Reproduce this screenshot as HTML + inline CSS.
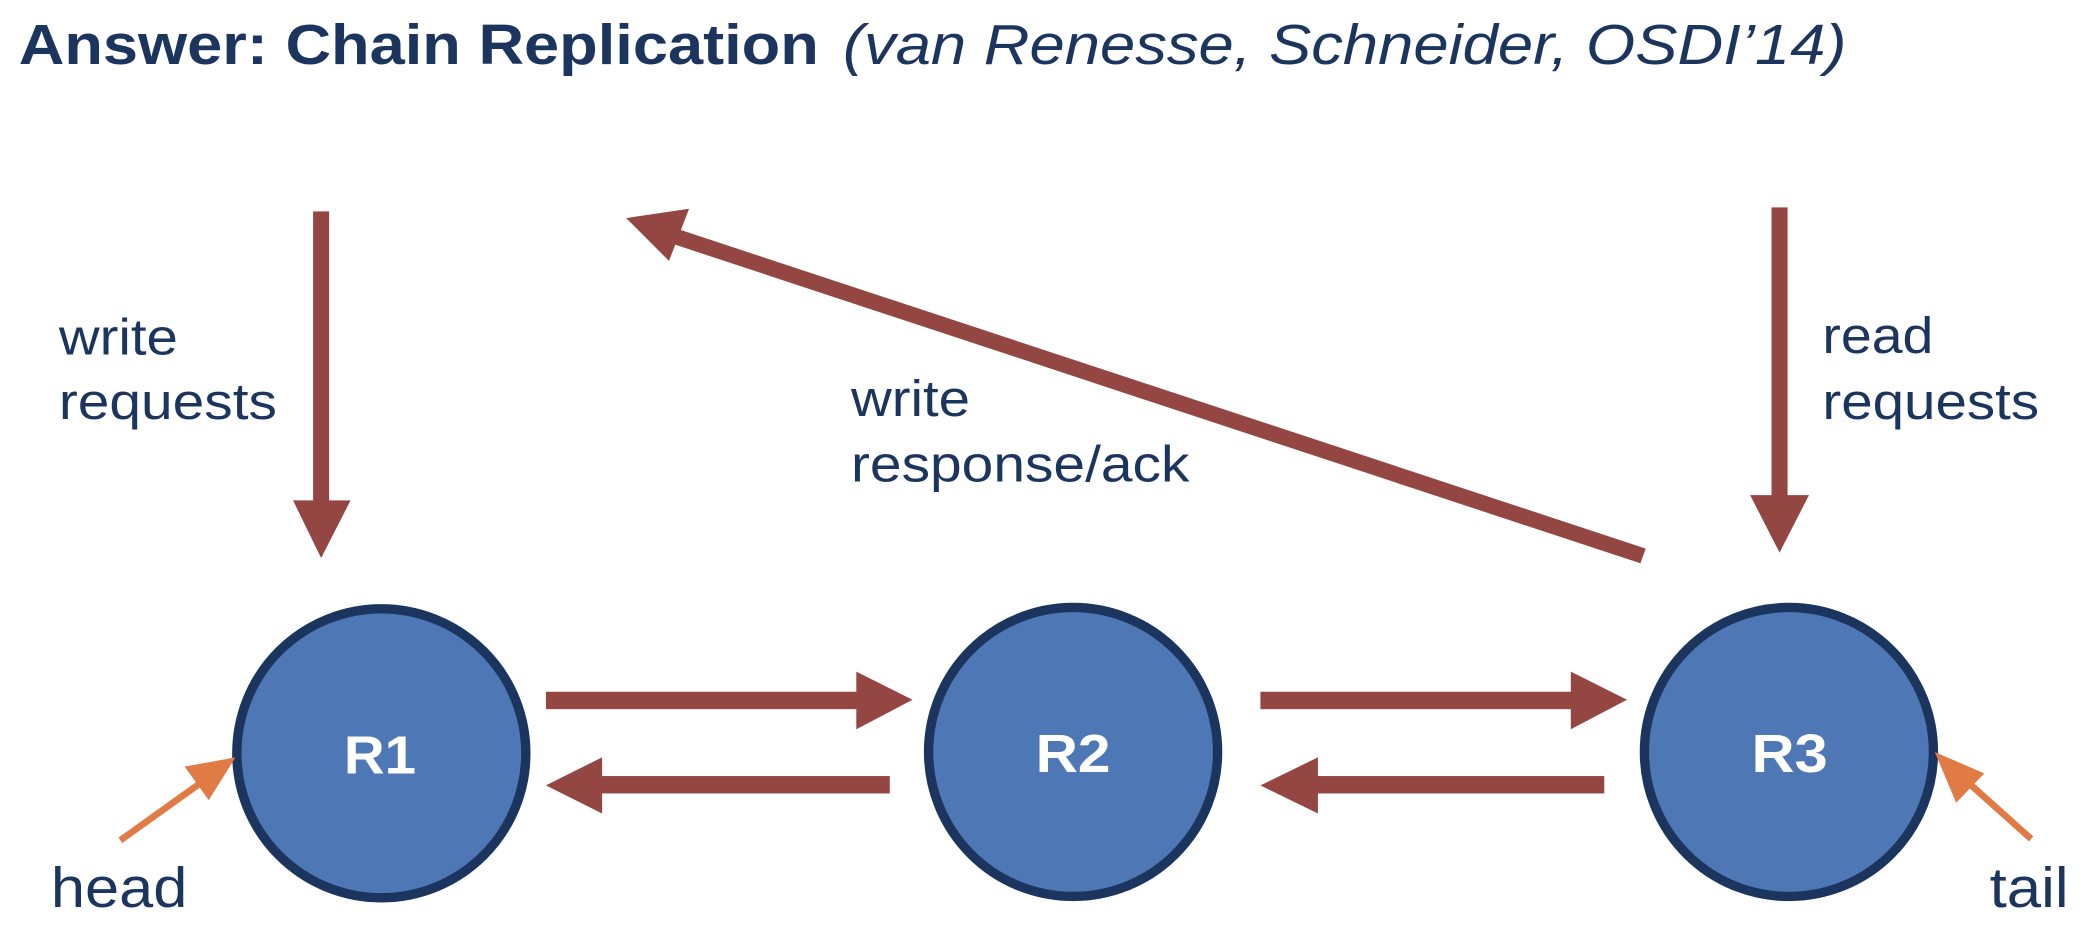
<!DOCTYPE html>
<html><head><style>html,body{margin:0;padding:0;background:#fff;}svg{display:block}</style></head>
<body>
<svg width="2098" height="952" viewBox="0 0 1568 711.5" preserveAspectRatio="none" xmlns="http://www.w3.org/2000/svg">
<g font-family="Liberation Sans, sans-serif" fill="#1c355e">
<text x="14" y="48" font-size="42" font-weight="bold" textLength="598" lengthAdjust="spacingAndGlyphs">Answer: Chain Replication</text>
<text x="630" y="48" font-size="42" font-style="italic" textLength="750" lengthAdjust="spacingAndGlyphs">(van Renesse, Schneider, OSDI’14)</text>
<text x="44" y="265" font-size="38" textLength="89" lengthAdjust="spacingAndGlyphs">write</text>
<text x="44" y="313" font-size="38" textLength="163" lengthAdjust="spacingAndGlyphs">requests</text>
<text x="636" y="311" font-size="38" textLength="89" lengthAdjust="spacingAndGlyphs">write</text>
<text x="636" y="360" font-size="38" textLength="253" lengthAdjust="spacingAndGlyphs">response/ack</text>
<text x="1362" y="264" font-size="38" textLength="83" lengthAdjust="spacingAndGlyphs">read</text>
<text x="1362" y="313" font-size="38" textLength="162" lengthAdjust="spacingAndGlyphs">requests</text>
<text x="38" y="678" font-size="42" textLength="102" lengthAdjust="spacingAndGlyphs">head</text>
<text x="1487" y="678" font-size="42" textLength="59" lengthAdjust="spacingAndGlyphs">tail</text>
</g>
<g fill="#944642" stroke="none">
<rect x="234" y="158" width="12" height="218"/>
<polygon points="219,374 262,374 240,417"/>
<rect x="1324" y="155" width="12" height="216"/>
<polygon points="1308,370 1352,370 1330,413"/>
<polygon points="1230,410 1226,421 502,182 506,171"/>
<polygon points="468,163 515,156 500,195"/>
<rect x="408" y="517" width="234" height="13"/>
<polygon points="640,502 682,523 640,545"/>
<rect x="942" y="517" width="234" height="13"/>
<polygon points="1174,502 1216,523 1174,545"/>
<rect x="448" y="580" width="217" height="13"/>
<polygon points="450,566 408,587 450,608"/>
<rect x="983" y="580" width="216" height="13"/>
<polygon points="985,566 942,587 985,608"/>
</g>
<g fill="#4e78b5" stroke="#1b355e" stroke-width="7">
<circle cx="285" cy="563" r="108"/>
<circle cx="802" cy="562" r="108"/>
<circle cx="1337" cy="562" r="108"/>
</g>
<g fill="#fff" font-family="Liberation Sans, sans-serif" font-weight="bold" font-size="40">
<text x="257" y="578" textLength="54" lengthAdjust="spacingAndGlyphs">R1</text>
<text x="774" y="577" textLength="56" lengthAdjust="spacingAndGlyphs">R2</text>
<text x="1309" y="577" textLength="57" lengthAdjust="spacingAndGlyphs">R3</text>
</g>
<g stroke="#e07b45" stroke-width="5" fill="#e07b45">
<line x1="90" y1="628" x2="160" y2="578"/>
<polygon points="176,566 138,573 156,598" stroke="none"/>
<line x1="1518" y1="627" x2="1460" y2="575"/>
<polygon points="1446,562 1483,578 1462,600" stroke="none"/>
</g>
</svg>
</body></html>
